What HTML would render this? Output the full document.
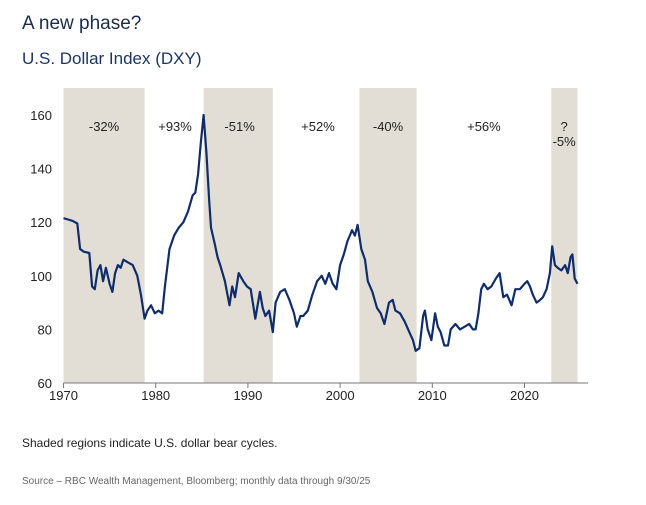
<!DOCTYPE html>
<html><head><meta charset="utf-8"><style>
body{margin:0;background:#fff;width:646px;height:500px;overflow:hidden;font-family:"Liberation Sans",sans-serif}
svg text{font-family:"Liberation Sans",sans-serif}
</style></head><body>
<svg id="chart" width="646" height="500">
<text x="22" y="29" font-size="19" fill="#1c2b4d">A new phase?</text>
<text x="22" y="64" font-size="17" fill="#1c3566">U.S. Dollar Index (DXY)</text>
<g id="bands"></g>
<g id="axes"></g>
<path id="line" fill="none" stroke="#0f2d6b" stroke-width="2.2" stroke-linejoin="round"></path>
<text x="22" y="447" font-size="12" fill="#222">Shaded regions indicate U.S. dollar bear cycles.</text>
<text x="22" y="484" font-size="10" fill="#666">Source – RBC Wealth Management, Bloomberg; monthly data through 9/30/25</text>
</svg>
<script>
const bandStarts=[1970,1985.2,2002.1,2022.9];
const bandEnds=[1978.8,1992.7,2008.3,2025.75];
const cycleLabels=["-32%","+93%","-51%","+52%","-40%","+56%","?|-5%"];
const cycleLabelYears=[1974.4,1982.1,1989.1,1997.6,2005.2,2015.6,2024.3];
const yTicks=[60,80,100,120,140,160];
const xTicks=[1970,1980,1990,2000,2010,2020];
const years=[1970,1970.5,1971,1971.5,1971.8,1972.2,1972.8,1973.1,1973.4,1973.7,1974,1974.3,1974.6,1975,1975.3,1975.6,1975.9,1976.2,1976.5,1977,1977.5,1978,1978.4,1978.8,1979.1,1979.5,1979.9,1980.3,1980.7,1981,1981.5,1982,1982.5,1983,1983.5,1984,1984.3,1984.6,1984.9,1985.2,1985.5,1985.8,1986,1986.4,1986.7,1987,1987.5,1988,1988.3,1988.6,1989,1989.5,1989.9,1990.3,1990.8,1991.3,1991.6,1991.9,1992.3,1992.7,1993,1993.5,1994,1994.5,1995,1995.3,1995.7,1996,1996.5,1997,1997.5,1998,1998.4,1998.8,1999.2,1999.6,2000,2000.4,2000.8,2001.3,2001.6,2001.9,2002.3,2002.7,2003,2003.5,2004,2004.4,2004.8,2005.3,2005.7,2006,2006.5,2007,2007.5,2007.9,2008.2,2008.6,2009,2009.2,2009.5,2009.9,2010.3,2010.6,2010.9,2011.3,2011.7,2012,2012.5,2013,2013.5,2014,2014.4,2014.7,2015,2015.3,2015.6,2016,2016.4,2016.9,2017.3,2017.7,2018.1,2018.6,2019,2019.5,2020,2020.3,2020.6,2020.9,2021.3,2021.7,2022,2022.4,2022.75,2023,2023.3,2023.6,2024,2024.4,2024.7,2025,2025.2,2025.45,2025.75];
const values=[121.5,121,120.5,119.5,110,109,108.5,96,95,102,104,98,103,97,94,101,104,103,106,105,104,100,93,84,87,89,86,87,86,96,110,115,118,120,124,130,131,138,150,160,146,128,118,112,107,104,98,89,96,92,101,98,96,95,84,94,88,85,87,79,90,94,95,91,86,81,85,85,87,93,98,100,97,101,97,95,104,108,113,117,115,119,110,106,98,94,88,86,82,90,91,87,86,83,79,76,72,73,85,87,80,76,86,81,79,74,74,80,82,80,81,82,80,80,86,95,97,95,96,99,101,92,93,89,95,95,97,98,96,93,90,91,92,95,101,111,104,103,102,104,101,107,108,99,97];
const X0=63.5,PX=9.22,YB=383,PY=2.68;
const xs=y=>X0+(y-1970)*PX, ys=v=>YB-(v-60)*PY;
const NS="http://www.w3.org/2000/svg";
function mk(tag,attrs,parent){const e=document.createElementNS(NS,tag);for(const k in attrs)e.setAttribute(k,attrs[k]);parent.appendChild(e);return e;}
const bands=document.getElementById('bands'),axes=document.getElementById('axes');
bandStarts.forEach((s,i)=>{
  const r=mk('rect',{x:xs(s),y:88,width:xs(bandEnds[i])-xs(s),height:YB-88,fill:'#e2ded6'},bands);
  
  
});
cycleLabels.forEach((l,i)=>{
  const parts=l.split('|');
  parts.forEach((p,j)=>{
    const t=mk('text',{x:xs(cycleLabelYears[i]),y:131+j*15,'font-size':13,fill:'#222','text-anchor':'middle'},bands);
    t.textContent=p;
    
    
  });
});
const ax=mk('line',{x1:X0,x2:588,y1:YB,y2:YB,stroke:'#777','stroke-width':1},axes);


xTicks.forEach(y=>{
  mk('line',{x1:xs(y),x2:xs(y),y1:YB,y2:YB+5,stroke:'#777'},axes);
  const t=mk('text',{x:xs(y),y:YB+17,'font-size':13,fill:'#222','text-anchor':'middle'},axes);
  t.textContent=y;
  
  
});
yTicks.forEach(v=>{
  const t=mk('text',{x:52,y:ys(v)+5,'font-size':13,fill:'#222','text-anchor':'end'},axes);
  t.textContent=v;
  
  
});
document.getElementById('line').setAttribute('d',years.map((y,i)=>(i?'L':'M')+xs(y).toFixed(1)+','+ys(values[i]).toFixed(1)).join(''));
</script>
</body></html>
